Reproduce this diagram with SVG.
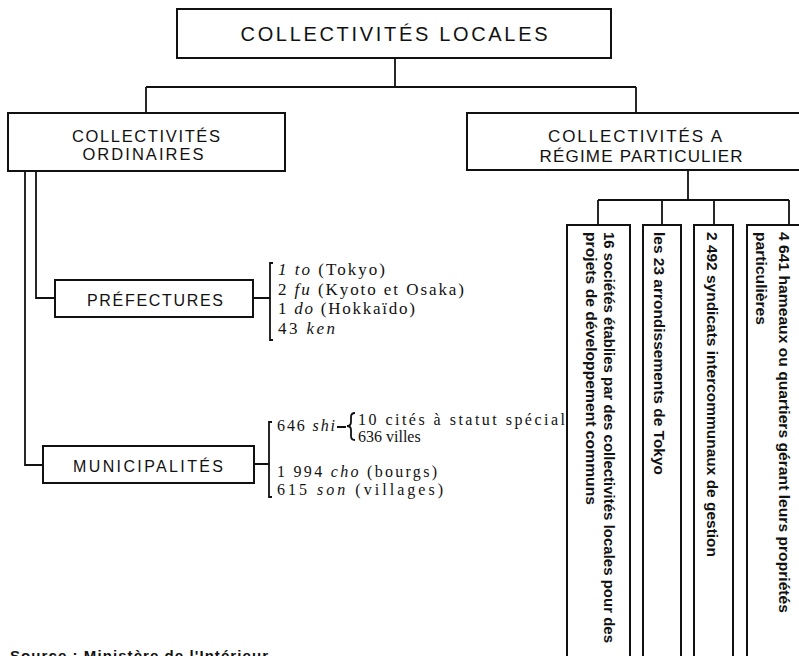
<svg xmlns="http://www.w3.org/2000/svg" width="799" height="656" viewBox="0 0 799 656">
<style>
.box{fill:#fff;stroke:#111;stroke-width:2}
.con{fill:none;stroke:#111;stroke-width:1.8}
.hd{font-family:"Liberation Sans",Arial,sans-serif;fill:#111;text-anchor:middle}
.ls{font-family:"Liberation Serif","Times New Roman",serif;font-size:17px;fill:#111}
.ms{font-family:"Liberation Serif","Times New Roman",serif;font-size:16px;fill:#111}
.vt{font-family:"Liberation Sans",Arial,sans-serif;font-weight:bold;font-size:15px;fill:#111}
.it{font-style:italic}
</style>
<rect width="799" height="656" fill="#fff"/>
<g id="connectors">
  <path class="con" d="M395 58V87M146 87H636M146 87V113M636 87V113"/>
  <path class="con" d="M25 171V465H43M36 171V298H55"/>
  <path class="con" d="M253 298H270M273 263H270V340H273"/>
  <path class="con" d="M254 464H269M272 422H269V497H272"/>
  <path class="con" d="M337 427H346M355 413Q351 413 351 417V422Q351 426 347 426Q351 426 351 430V436Q351 440 355 440"/>
  <path class="con" d="M688 171V200M598 200H789M598 200V225M662 200V225M714 200V225M789 200V225"/>
</g>
<g id="top">
  <rect class="box" x="177" y="9" width="434" height="49"/>
  <text class="hd" x="394" y="40.5" font-size="20" textLength="307" lengthAdjust="spacing">COLLECTIVITÉS LOCALES</text>
</g>
<g id="ordinaires">
  <rect class="box" x="8" y="113" width="277" height="58"/>
  <text class="hd" x="146" y="142" font-size="16.5" textLength="148" lengthAdjust="spacing">COLLECTIVITÉS</text>
  <text class="hd" x="143" y="160" font-size="16.5" textLength="121" lengthAdjust="spacing">ORDINAIRES</text>
</g>
<g id="particulier">
  <rect class="box" x="467" y="113" width="345" height="57"/>
  <text class="hd" x="635" y="142" font-size="17" textLength="174" lengthAdjust="spacing">COLLECTIVITÉS A</text>
  <text class="hd" x="641" y="162" font-size="17" textLength="203" lengthAdjust="spacing">RÉGIME PARTICULIER</text>
</g>
<g id="prefectures">
  <rect class="box" x="55" y="280" width="198" height="37"/>
  <text class="hd" x="155" y="306" font-size="16" textLength="136" lengthAdjust="spacing">PRÉFECTURES</text>
  <text class="ls" x="278" y="275" textLength="107" lengthAdjust="spacing"><tspan class="it">1 to</tspan> (Tokyo)</text>
  <text class="ls" x="278" y="294.5" textLength="186" lengthAdjust="spacing">2 <tspan class="it">fu</tspan> (Kyoto et Osaka)</text>
  <text class="ls" x="278" y="314" textLength="137" lengthAdjust="spacing">1 <tspan class="it">do</tspan> (Hokkaïdo)</text>
  <text class="ls" x="278" y="333.5" textLength="57" lengthAdjust="spacing">43 <tspan class="it">ken</tspan></text>
</g>
<g id="municipalites">
  <rect class="box" x="43" y="446" width="211" height="37"/>
  <text class="hd" x="148" y="472" font-size="16" textLength="150" lengthAdjust="spacing">MUNICIPALITÉS</text>
  <text class="ms" x="277" y="431" textLength="58" lengthAdjust="spacing">646 <tspan class="it">shi</tspan></text>
  <text class="ms" x="358" y="424.5" textLength="207" lengthAdjust="spacing">10 cités à statut spécial</text>
  <text class="ms" x="358" y="441.5">636 villes</text>
  <text class="ms" x="277" y="476.5" textLength="160" lengthAdjust="spacing">1 994 <tspan class="it">cho</tspan> (bourgs)</text>
  <text class="ms" x="277" y="494.5" textLength="166" lengthAdjust="spacing">615 <tspan class="it">son</tspan> (villages)</text>
</g>
<g id="societes">
  <rect class="box" x="567" y="225" width="63" height="440"/>
  <text class="vt" transform="translate(603.5,232) rotate(90)" textLength="411" lengthAdjust="spacingAndGlyphs">16 sociétés établies par des collectivités locales pour des</text>
  <text class="vt" transform="translate(585.5,232) rotate(90)" textLength="273" lengthAdjust="spacingAndGlyphs">projets de développement communs</text>
</g>
<g id="arrondissements">
  <rect class="box" x="643" y="225" width="38" height="440"/>
  <text class="vt" transform="translate(654,232) rotate(90)" textLength="243" lengthAdjust="spacingAndGlyphs">les 23 arrondissements de Tokyo</text>
</g>
<g id="syndicats">
  <rect class="box" x="694" y="225" width="39" height="440"/>
  <text class="vt" transform="translate(707,232) rotate(90)" textLength="325" lengthAdjust="spacingAndGlyphs">2 492 syndicats intercommunaux de gestion</text>
</g>
<g id="hameaux">
  <rect class="box" x="747" y="225" width="70" height="440"/>
  <text class="vt" transform="translate(779,232) rotate(90)" textLength="381" lengthAdjust="spacingAndGlyphs">4 641 hameaux ou quartiers gérant leurs propriétés</text>
  <text class="vt" transform="translate(756,232) rotate(90)" textLength="93" lengthAdjust="spacingAndGlyphs">particulières</text>
</g>
<text x="10" y="661" font-family="'Liberation Sans',Arial,sans-serif" font-weight="bold" font-size="15" fill="#111" textLength="258" lengthAdjust="spacing">Source : Ministère de l'Intérieur</text>
</svg>
